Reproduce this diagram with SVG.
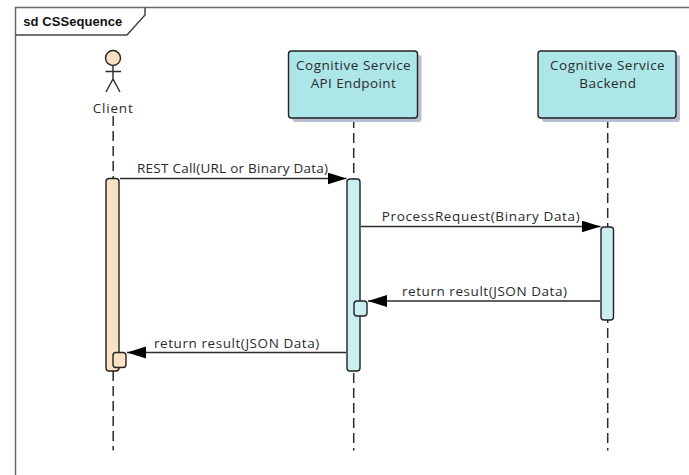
<svg xmlns="http://www.w3.org/2000/svg" width="689" height="475" viewBox="0 0 689 475">
<style>
text{font-family:"Open Sans","Liberation Sans",sans-serif;font-size:13.500px;fill:#2b2b2b;text-anchor:start}
.ln{fill:none;stroke:#2b2b2b;stroke-width:1.4}
.fr{fill:none;stroke:#6a6a6a;stroke-width:1.5}
.life{fill:none;stroke:#2b2b2b;stroke-width:1.5;stroke-dasharray:10 5}
.blue{fill:#cbeef0;stroke:#222;stroke-width:1.4}
.tan{fill:#f9e2c3;stroke:#222;stroke-width:1.4}
.box{fill:#ace6e8;stroke:#222;stroke-width:1.4}
.shadow{fill:#b8bfd3}
text.title{font-family:"Liberation Sans",sans-serif;font-weight:700;font-size:13px;fill:#111}
</style>
<defs><marker id="arrow" markerUnits="userSpaceOnUse" markerWidth="20" markerHeight="14" refX="19" refY="6" orient="auto"><path d="M0 0L19 6L0 12Z" fill="#000"/></marker></defs>
<rect width="689" height="475" fill="#fff"/>
<g id="frame">
<path class="fr" d="M15.500 475V7.500H689"/>
<path class="fr" d="M15.500 35H127L145 15V7.500" style="stroke:#444"/>
<text class="title" x="23.300" y="26" textLength="99">sd CSSequence</text>
</g>
<g id="lifelines">
<path class="life" d="M113.200 116V450.500"/>
<path class="life" d="M353.700 118V450.500"/>
<path class="life" d="M607.700 118V450.500"/>
</g>
<g id="client">
<circle class="tan" cx="113" cy="58" r="7.500"/>
<path class="ln" d="M113 65.500V79M105.500 71.500H121M106 92L113 79L120 92"/>
<text x="92.700" y="112.700" textLength="40">Client</text>
</g>
<g id="api-endpoint">
<rect class="shadow" x="292.500" y="55" width="129" height="67" rx="3"/>
<rect class="box" x="288.500" y="51" width="129" height="67" rx="3"/>
<text x="296" y="70" textLength="114.700">Cognitive Service</text>
<text x="310.700" y="87.700" textLength="85">API Endpoint</text>
</g>
<g id="backend">
<rect class="shadow" x="542" y="55" width="138" height="67" rx="3"/>
<rect class="box" x="538" y="51" width="138" height="67" rx="3"/>
<text x="550" y="70" textLength="114.700">Cognitive Service</text>
<text x="579.300" y="87.700" textLength="56.700">Backend</text>
</g>
<g id="client-activation">
<rect class="tan" x="106" y="178.500" width="13" height="192.500" rx="3"/>
<rect class="tan" x="113" y="352.500" width="13" height="15" rx="3"/>
</g>
<g id="api-activation">
<rect class="blue" x="347" y="179" width="13" height="192" rx="3"/>
<rect class="blue" x="354" y="301" width="13" height="15" rx="3"/>
</g>
<g id="backend-activation">
<rect class="blue" x="601" y="227" width="12.500" height="93" rx="3"/>
</g>
<g id="connectors">
<path class="ln" d="M120 178.500H346.500" marker-end="url(#arrow)"/>
<path class="ln" d="M361 226.500H600.500" marker-end="url(#arrow)"/>
<path class="ln" d="M600 301H368" marker-end="url(#arrow)"/>
<path class="ln" d="M346 352.500H127" marker-end="url(#arrow)"/>
<text x="137" y="173" textLength="191">REST Call(URL or Binary Data)</text>
<text x="381.700" y="221" textLength="198">ProcessRequest(Binary Data)</text>
<text x="402" y="296" textLength="165">return result(JSON Data)</text>
<text x="154" y="347.500" textLength="165.300">return result(JSON Data)</text>
</g>
</svg>
